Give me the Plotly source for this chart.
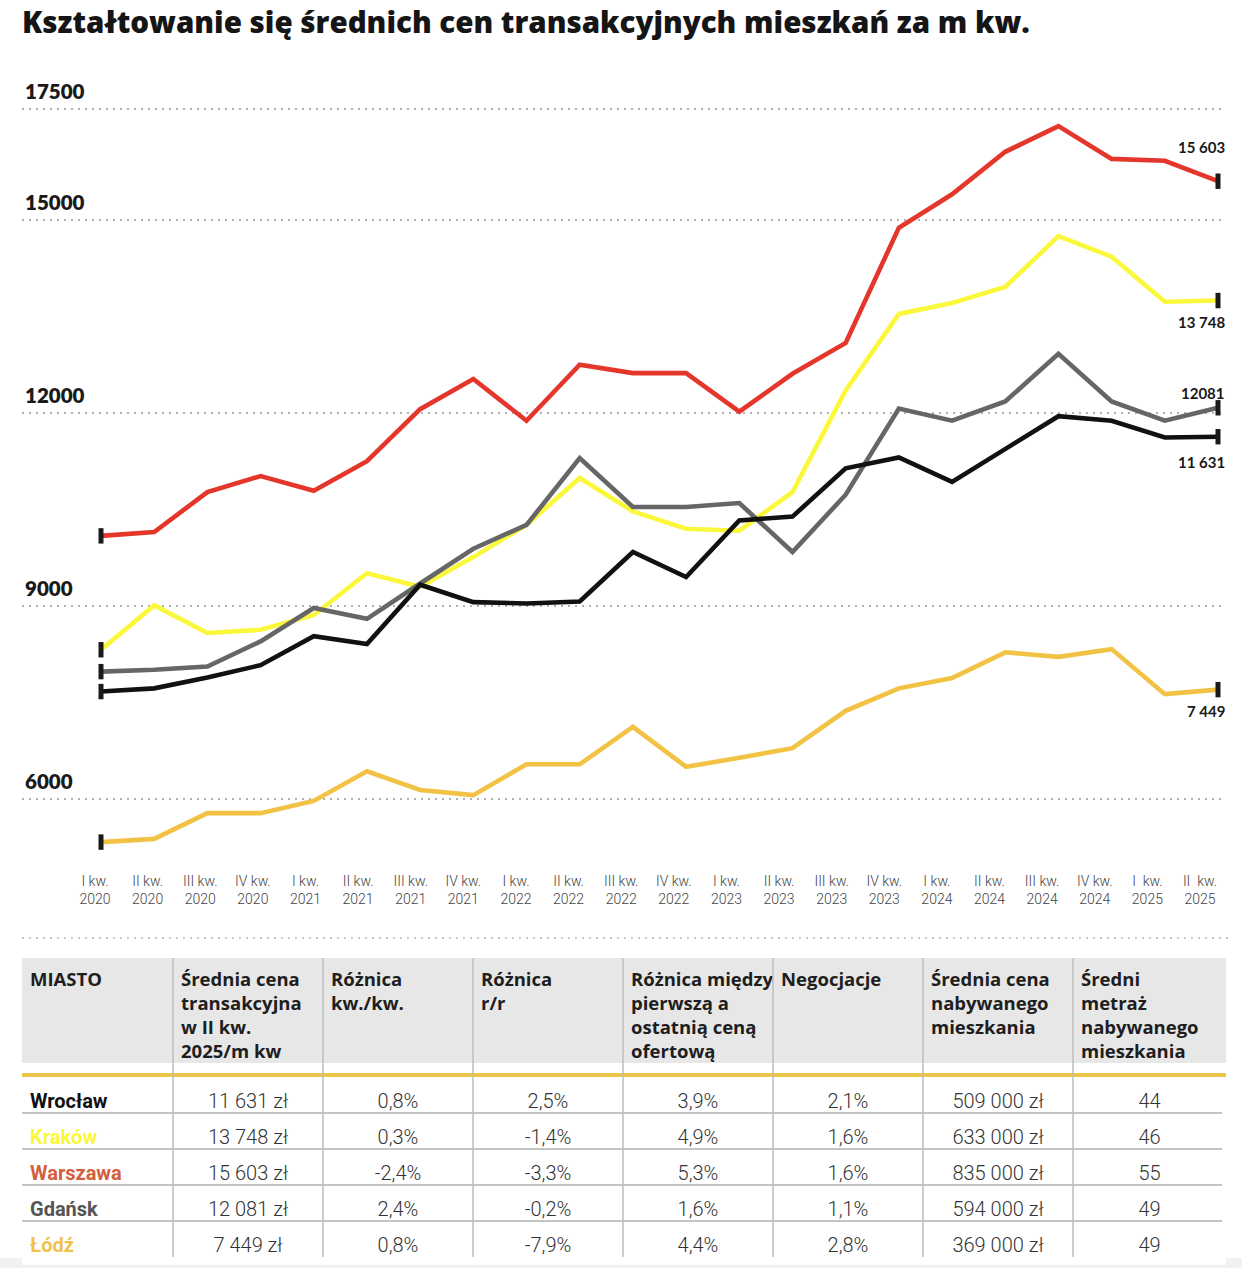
import plotly.graph_objects as go

W, H = 1242, 1268

# ---------------- data ----------------
quarters = ["I kw.<br>2020", "II kw.<br>2020", "III kw.<br>2020", "IV kw.<br>2020",
            "I kw.<br>2021", "II kw.<br>2021", "III kw.<br>2021", "IV kw.<br>2021",
            "I kw.<br>2022", "II kw.<br>2022", "III kw.<br>2022", "IV kw.<br>2022",
            "I kw.<br>2023", "II kw.<br>2023", "III kw.<br>2023", "IV kw.<br>2023",
            "I kw.<br>2024", "II kw.<br>2024", "III kw.<br>2024", "IV kw.<br>2024",
            "I\u00a0 kw.<br>2025", "II\u00a0 kw.<br>2025"]

warszawa = [10090, 10150, 10770, 11020, 10790, 11250, 12060, 12530, 11880, 12750, 12620,
            12620, 12020, 12610, 13090, 14880, 15400, 16060, 16460, 15950, 15920, 15603]
krakow = [8320, 9010, 8580, 8630, 8860, 9510, 9300, 9760, 10260, 10990, 10470,
          10200, 10170, 10770, 12350, 13540, 13710, 13960, 14750, 14430, 13730, 13748]
gdansk = [7980, 8010, 8060, 8450, 8970, 8800, 9350, 9890, 10260, 11300, 10540,
          10540, 10600, 9840, 10730, 12070, 11880, 12180, 12920, 12180, 11880, 12081]
wroclaw = [7670, 7720, 7890, 8080, 8530, 8410, 9330, 9060, 9040, 9070, 9840,
           9450, 10330, 10390, 11140, 11310, 10930, 11450, 11950, 11880, 11620, 11631]
lodz = [5330, 5380, 5780, 5780, 5970, 6430, 6140, 6060, 6540, 6540, 7120,
        6500, 6640, 6790, 7370, 7720, 7880, 8280, 8210, 8330, 7630, 7700]

end_labels = {"Warszawa": "15 603", "Kraków": "13 748", "Gdańsk": "12081",
              "Wrocław": "11 631", "Łódź": "7 449"}

y_tick_vals = [6000, 9000, 12000, 15000, 16725]
y_tick_text = ["6000", "9000", "12000", "15000", "17500"]

table_headers = ["MIASTO", "Średnia cena<br>transakcyjna<br>w II kw.<br>2025/m kw",
                 "Różnica<br>kw./kw.", "Różnica<br>r/r",
                 "Różnica między<br>pierwszą a<br>ostatnią ceną<br>ofertową",
                 "Negocjacje", "Średnia cena<br>nabywanego<br>mieszkania",
                 "Średni<br>metraż<br>nabywanego<br>mieszkania"]
cities = ["Wrocław", "Kraków", "Warszawa", "Gdańsk", "Łódź"]
price_m2 = ["11 631 zł", "13 748 zł", "15 603 zł", "12 081 zł", "7 449 zł"]
diff_qq = ["0,8%", "0,3%", "-2,4%", "2,4%", "0,8%"]
diff_yy = ["2,5%", "-1,4%", "-3,3%", "-0,2%", "-7,9%"]
diff_offer = ["3,9%", "4,9%", "5,3%", "1,6%", "4,4%"]
negotiation = ["2,1%", "1,6%", "1,6%", "1,1%", "2,8%"]
avg_price = ["509 000 zł", "633 000 zł", "835 000 zł", "594 000 zł", "369 000 zł"]
avg_area = ["44", "46", "55", "49", "49"]

# ---------------- styles ----------------
line_colors = {"Łódź": "#f2c244", "Kraków": "#fbf83c", "Gdańsk": "#666666",
               "Wrocław": "#111111", "Warszawa": "#e5362b"}
city_text_colors = {"Wrocław": "#111111", "Kraków": "#fbf83c", "Warszawa": "#d2603c",
                    "Gdańsk": "#555555", "Łódź": "#f0c24c"}
label_shift = {"Warszawa": 34, "Kraków": -21, "Gdańsk": 15, "Wrocław": -25, "Łódź": -21}

series = [("Łódź", lodz), ("Kraków", krakow), ("Gdańsk", gdansk),
          ("Wrocław", wroclaw), ("Warszawa", warszawa)]

# layout geometry (pixels)
PL, PR = 22, 1222
PT, PB = 60, 862
X_FIRST, X_LAST = 101, 1218
LBL_FIRST, LBL_LAST = 95, 1200
n = len(quarters)

def px_range(first_px, last_px):
    step = (last_px - first_px) / (n - 1)
    return [-(first_px - PL) / step, (n - 1) + (PR - last_px) / step]

Y_PX_PER_UNIT = (799 - 220) / (15000 - 6000)
y_lo = 6000 - (PB - 799) / Y_PX_PER_UNIT
y_hi = 15000 + (220 - PT) / Y_PX_PER_UNIT

fig = go.Figure()

for name, vals in series:
    fig.add_trace(go.Scatter(x=quarters, y=vals, mode="lines",
                             line=dict(color=line_colors[name], width=4.6),
                             name=name, showlegend=False, hoverinfo="skip"))
for name, vals in series:
    fig.add_trace(go.Scatter(x=[quarters[0], quarters[-1]], y=[vals[0], vals[-1]],
                             mode="markers",
                             marker=dict(symbol="line-ns", size=11,
                                         line=dict(width=5, color="#1a1a1a")),
                             showlegend=False, hoverinfo="skip"))
    fig.add_annotation(x=quarters[-1], y=vals[-1], text="<b>%s</b>" % end_labels[name],
                       showarrow=False, xanchor="right", yanchor="middle",
                       xshift=9, yshift=label_shift[name],
                       font=dict(family="Lato", size=15, color="#1a1a1a"))

# invisible trace for the shifted category labels axis
fig.add_trace(go.Scatter(x=quarters, y=[None] * n, xaxis="x2", mode="lines",
                         showlegend=False, hoverinfo="skip"))

# ---------------- table ----------------
col_w = [151, 150, 150, 150, 150, 150, 150, 153]
T_L, T_TOP, HEAD_H, GAP_H, ROW_H = 22, 958, 105, 14, 36
HEAD_BLOCK = HEAD_H + GAP_H + 8          # header cell incl. white gap & text offset
T_R = T_L + sum(col_w)
T_BOT = T_TOP + HEAD_BLOCK + ROW_H * len(cities) + 2
ROWS_TOP = T_TOP + HEAD_H + GAP_H

ncol = len(col_w)
fig.add_trace(go.Table(
    domain=dict(x=[T_L / W, T_R / W], y=[max(0, 1 - T_BOT / H), 1 - T_TOP / H]),
    columnwidth=col_w,
    header=dict(values=["<b>%s</b>" % h for h in table_headers],
                fill_color="#e7e7e7", line=dict(color="#e7e7e7", width=0),
                align="left", height=HEAD_BLOCK,
                font=dict(family="Open Sans", size=18.5, color="#1e1e1e")),
    cells=dict(values=[cities, price_m2, diff_qq, diff_yy,
                       diff_offer, negotiation, avg_price, avg_area],
               fill_color="white", line=dict(color="white", width=0),
               align=["left"] + ["center"] * (ncol - 1), height=ROW_H,
               font=dict(family="Roboto", size=20,
                         weight=[700] + [300] * (ncol - 1),
                         color=[[city_text_colors[c] for c in cities]] + ["#333333"] * (ncol - 1))),
))

shapes = []
# faint grey band at the very bottom
shapes.append(dict(type="rect", xref="paper", yref="paper", x0=0, x1=1,
                   y0=0, y1=1 - 1258 / H, fillcolor="#f1f1f1", line=dict(width=0),
                   layer="below"))
# dotted separator between chart and table
shapes.append(dict(type="line", xref="paper", yref="paper", x0=22 / W, x1=1228 / W,
                   y0=1 - 938 / H, y1=1 - 938 / H,
                   line=dict(color="#b5b5b5", width=1.5, dash="2px,5px")))
# white gap + yellow rule under header
shapes.append(dict(type="rect", xref="paper", yref="paper", x0=T_L / W, x1=T_R / W,
                   y0=1 - (T_TOP + HEAD_BLOCK + 1) / H, y1=1 - (T_TOP + HEAD_H) / H,
                   fillcolor="white", line=dict(width=0), layer="above"))
shapes.append(dict(type="rect", xref="paper", yref="paper", x0=T_L / W, x1=T_R / W,
                   y0=1 - ROWS_TOP / H, y1=1 - (ROWS_TOP - 4) / H,
                   fillcolor="#e9c54a", line=dict(width=0), layer="above"))
# vertical separators
xb = T_L
for w in col_w[:-1]:
    xb += w
    shapes.append(dict(type="line", xref="paper", yref="paper", x0=xb / W, x1=xb / W,
                       y0=1 - T_TOP / H, y1=1 - (ROWS_TOP + ROW_H * len(cities)) / H,
                       line=dict(color="#bdbdbd", width=1.5), layer="above"))
# horizontal row lines
for i in range(1, len(cities)):
    yy = ROWS_TOP + ROW_H * i
    shapes.append(dict(type="line", xref="paper", yref="paper", x0=T_L / W, x1=1222 / W,
                       y0=1 - yy / H, y1=1 - yy / H,
                       line=dict(color="#c4c4c4", width=2), layer="above"))

fig.update_layout(
    width=W, height=H,
    margin=dict(l=0, r=0, t=0, b=0),
    paper_bgcolor="white", plot_bgcolor="white",
    title=dict(text="Kształtowanie się średnich cen transakcyjnych mieszkań za m kw.",
               x=22 / W, xanchor="left", y=1 - 23 / H, yanchor="middle",
               xref="container", yref="container",
               font=dict(family="Open Sans", size=29.5, weight=800, color="#151515")),
    xaxis=dict(domain=[PL / W, PR / W], range=px_range(X_FIRST, X_LAST), type="category",
               showticklabels=False, showgrid=False, zeroline=False, showline=False,
               ticks=""),
    xaxis2=dict(overlaying="x", anchor="y", side="bottom", type="category",
                range=px_range(LBL_FIRST, LBL_LAST), showgrid=False, zeroline=False,
                showline=False, ticks="outside", ticklen=6, tickcolor="rgba(0,0,0,0)",
                tickfont=dict(family="Roboto", size=14, color="#444444", weight=300)),
    yaxis=dict(domain=[1 - PB / H, 1 - PT / H], range=[y_lo, y_hi],
               tickvals=y_tick_vals, ticktext=y_tick_text,
               ticklabelposition="inside top", ticklabelshift=-3,
               tickfont=dict(family="Lato", size=20.5, weight=800, color="#1a1a1a"),
               showgrid=True, gridcolor="#b0b0b0", gridwidth=1.5, griddash="2px,5px",
               zeroline=False, showline=False, ticks=""),
    shapes=shapes,
)

fig.write_html("out.html", config={"displayModeBar": False},
               post_script="document.body.style.margin='0px';")
